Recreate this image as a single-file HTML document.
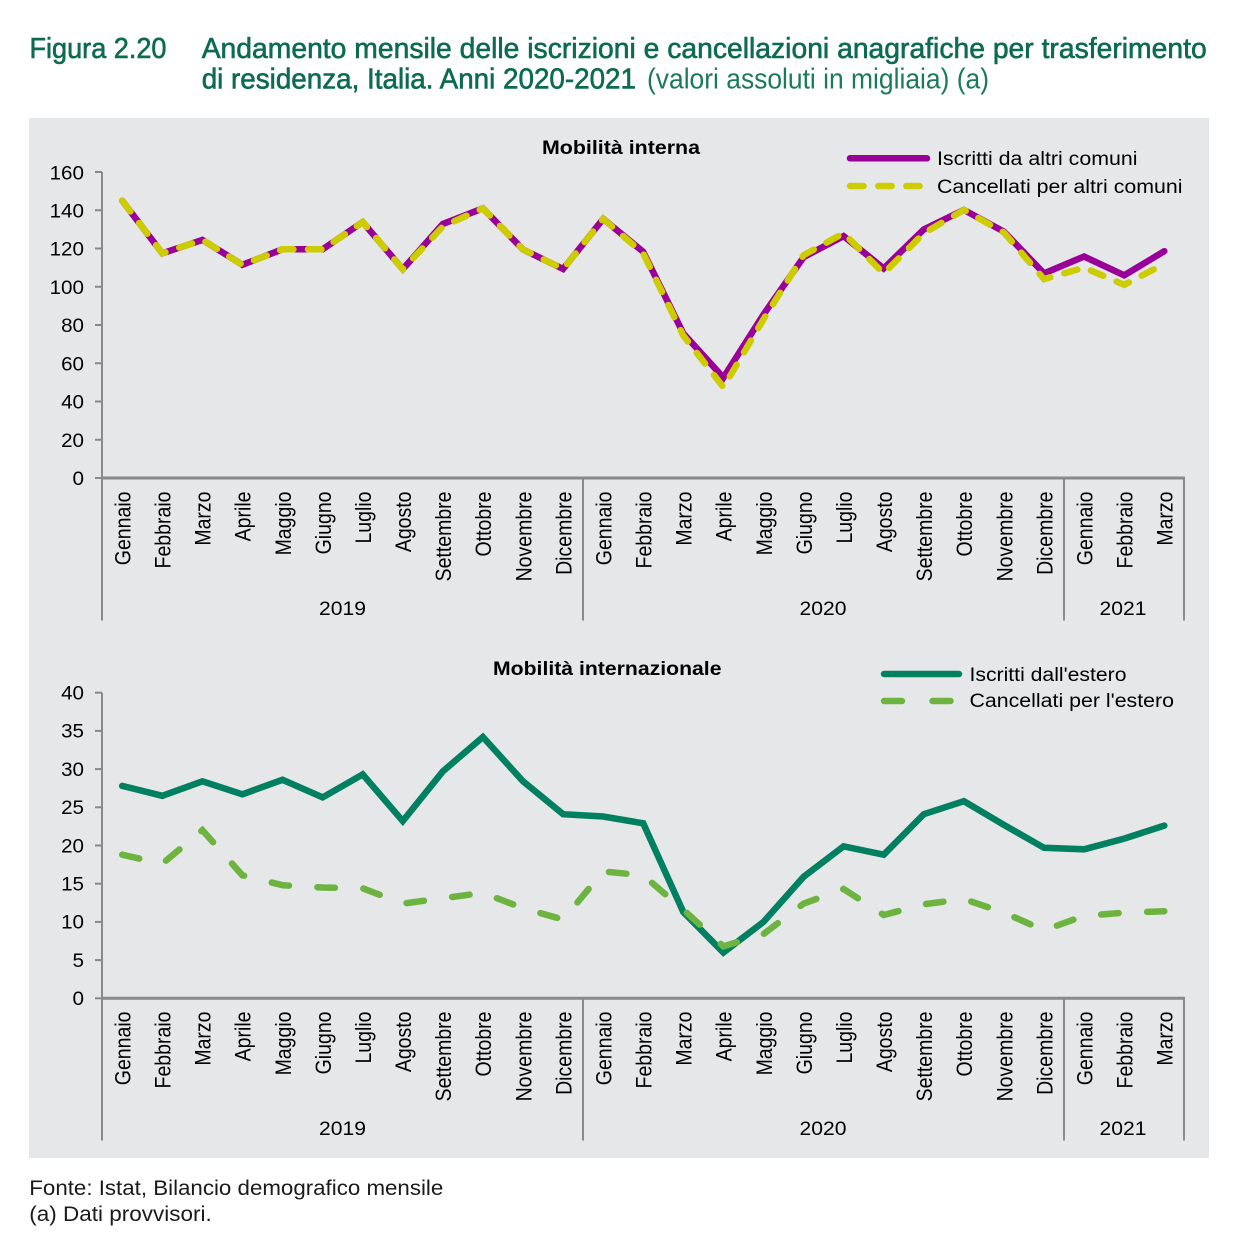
<!DOCTYPE html>
<html><head><meta charset="utf-8"><style>
html,body{margin:0;padding:0;background:#fff;}
svg{display:block;font-family:"Liberation Sans",Arial,sans-serif;}
</style></head><body>
<svg width="1246" height="1238" viewBox="0 0 1246 1238" xmlns="http://www.w3.org/2000/svg">
<!-- Title -->
<g fill="#0c6b50" font-size="28.5">
<text x="29.5" y="58" textLength="137" lengthAdjust="spacingAndGlyphs" stroke="#0c6b50" stroke-width="0.6">Figura 2.20</text>
<text x="201.7" y="58" textLength="1005" lengthAdjust="spacingAndGlyphs" stroke="#0c6b50" stroke-width="0.6">Andamento mensile delle iscrizioni e cancellazioni anagrafiche per trasferimento</text>
<text x="201.7" y="88.5" textLength="434.3" lengthAdjust="spacingAndGlyphs" stroke="#0c6b50" stroke-width="0.6">di residenza, Italia. Anni 2020-2021</text>
<text x="647" y="88.5" textLength="342" lengthAdjust="spacingAndGlyphs" fill="#1c7a5c">(valori assoluti in migliaia) (a)</text>
</g>
<!-- Panel -->
<rect x="29" y="118" width="1180" height="1040" fill="#e6e7e8"/>

<!-- ============ TOP CHART ============ -->
<text x="542" y="154" font-size="19" font-weight="bold" textLength="158" lengthAdjust="spacingAndGlyphs" fill="#000">Mobilità interna</text>
<g stroke="#898989" fill="none">
<line x1="102" y1="172" x2="102" y2="479" stroke-width="2"/>
<line x1="101" y1="478" x2="1185" y2="478" stroke-width="3"/>
<g stroke-width="2">
<line x1="95" y1="478" x2="102" y2="478"/><line x1="95" y1="439.75" x2="102" y2="439.75"/><line x1="95" y1="401.5" x2="102" y2="401.5"/><line x1="95" y1="363.25" x2="102" y2="363.25"/><line x1="95" y1="325" x2="102" y2="325"/><line x1="95" y1="286.75" x2="102" y2="286.75"/><line x1="95" y1="248.5" x2="102" y2="248.5"/><line x1="95" y1="210.25" x2="102" y2="210.25"/><line x1="95" y1="172" x2="102" y2="172"/>
<line x1="102" y1="478" x2="102" y2="620.5"/><line x1="583" y1="478" x2="583" y2="620.5"/><line x1="1064" y1="478" x2="1064" y2="620.5"/><line x1="1184" y1="478" x2="1184" y2="620.5"/>
</g></g>
<g font-size="19.5" fill="#000" text-anchor="end">
<text x="84" y="485" textLength="11.5" lengthAdjust="spacingAndGlyphs">0</text>
<text x="84" y="446.8" textLength="22.9" lengthAdjust="spacingAndGlyphs">20</text>
<text x="84" y="408.5" textLength="22.9" lengthAdjust="spacingAndGlyphs">40</text>
<text x="84" y="370.3" textLength="22.9" lengthAdjust="spacingAndGlyphs">60</text>
<text x="84" y="332" textLength="22.9" lengthAdjust="spacingAndGlyphs">80</text>
<text x="84" y="293.8" textLength="34.4" lengthAdjust="spacingAndGlyphs">100</text>
<text x="84" y="255.5" textLength="34.4" lengthAdjust="spacingAndGlyphs">120</text>
<text x="84" y="217.3" textLength="34.4" lengthAdjust="spacingAndGlyphs">140</text>
<text x="84" y="179.5" textLength="34.4" lengthAdjust="spacingAndGlyphs">160</text>
</g>
<g font-size="19.5" fill="#000" text-anchor="end">
<text transform="translate(130.5,491.5) scale(1.13,1) rotate(-90)">Gennaio</text>
<text transform="translate(170.6,491.5) scale(1.13,1) rotate(-90)">Febbraio</text>
<text transform="translate(210.7,491.5) scale(1.13,1) rotate(-90)">Marzo</text>
<text transform="translate(250.7,491.5) scale(1.13,1) rotate(-90)">Aprile</text>
<text transform="translate(290.8,491.5) scale(1.13,1) rotate(-90)">Maggio</text>
<text transform="translate(330.9,491.5) scale(1.13,1) rotate(-90)">Giugno</text>
<text transform="translate(371.0,491.5) scale(1.13,1) rotate(-90)">Luglio</text>
<text transform="translate(411.1,491.5) scale(1.13,1) rotate(-90)">Agosto</text>
<text transform="translate(451.1,491.5) scale(1.13,1) rotate(-90)">Settembre</text>
<text transform="translate(491.2,491.5) scale(1.13,1) rotate(-90)">Ottobre</text>
<text transform="translate(531.3,491.5) scale(1.13,1) rotate(-90)">Novembre</text>
<text transform="translate(571.4,491.5) scale(1.13,1) rotate(-90)">Dicembre</text>
<text transform="translate(611.5,491.5) scale(1.13,1) rotate(-90)">Gennaio</text>
<text transform="translate(651.5,491.5) scale(1.13,1) rotate(-90)">Febbraio</text>
<text transform="translate(691.6,491.5) scale(1.13,1) rotate(-90)">Marzo</text>
<text transform="translate(731.7,491.5) scale(1.13,1) rotate(-90)">Aprile</text>
<text transform="translate(771.8,491.5) scale(1.13,1) rotate(-90)">Maggio</text>
<text transform="translate(811.9,491.5) scale(1.13,1) rotate(-90)">Giugno</text>
<text transform="translate(851.9,491.5) scale(1.13,1) rotate(-90)">Luglio</text>
<text transform="translate(892.0,491.5) scale(1.13,1) rotate(-90)">Agosto</text>
<text transform="translate(932.1,491.5) scale(1.13,1) rotate(-90)">Settembre</text>
<text transform="translate(972.2,491.5) scale(1.13,1) rotate(-90)">Ottobre</text>
<text transform="translate(1012.3,491.5) scale(1.13,1) rotate(-90)">Novembre</text>
<text transform="translate(1052.3,491.5) scale(1.13,1) rotate(-90)">Dicembre</text>
<text transform="translate(1092.4,491.5) scale(1.13,1) rotate(-90)">Gennaio</text>
<text transform="translate(1132.5,491.5) scale(1.13,1) rotate(-90)">Febbraio</text>
<text transform="translate(1172.6,491.5) scale(1.13,1) rotate(-90)">Marzo</text>
</g>
<g font-size="19.5" fill="#000" text-anchor="middle">
<text x="342.5" y="615" textLength="47" lengthAdjust="spacingAndGlyphs">2019</text>
<text x="823" y="615" textLength="47" lengthAdjust="spacingAndGlyphs">2020</text>
<text x="1123" y="615" textLength="47" lengthAdjust="spacingAndGlyphs">2021</text>
</g>
<!-- series top -->
<polyline fill="none" stroke="#990099" stroke-width="6.5" stroke-linecap="round" stroke-linejoin="miter"
points="122.2,200.7 162.3,253.3 202.4,239.9 242.4,264.8 282.5,249.3 322.6,249.3 362.7,222.1 402.8,269.2 442.8,224.0 482.9,208.3 523.0,249.5 563.1,269.0 603.2,218.9 643.2,251.8 683.3,333.4 723.4,377.6 763.5,314.5 803.6,257.1 843.6,236.1 883.7,268.4 923.8,229.4 963.9,209.9 1004.0,231.7 1044.0,273.4 1084.1,256.5 1124.2,275.3 1164.3,251.2"/>
<polyline fill="none" stroke="#cccc00" stroke-width="6.5" stroke-linecap="round" stroke-linejoin="miter" stroke-dasharray="13.5 14.5"
points="122.2,200.7 162.3,253.3 202.4,239.9 242.4,264.8 282.5,249.3 322.6,249.3 362.7,222.1 402.8,269.2 442.8,226.5 482.9,208.3 523.0,249.5 563.1,269.0 603.2,218.9 643.2,253.3 683.3,335.5 723.4,387.2 763.5,319.3 803.6,255.2 843.6,233.2 883.7,273.4 923.8,233.2 963.9,209.9 1004.0,232.6 1044.0,279.1 1084.1,267.6 1124.2,284.8 1164.3,263.8"/>
<!-- legend top -->
<line x1="850" y1="158.3" x2="927" y2="158.3" stroke="#990099" stroke-width="6.5" stroke-linecap="round"/>
<g stroke="#cccc00" stroke-width="6.5" stroke-linecap="round">
<line x1="850" y1="186" x2="863.5" y2="186"/><line x1="878.3" y1="186" x2="891.7" y2="186"/><line x1="906.3" y1="186" x2="919.5" y2="186"/>
</g>
<g font-size="19" fill="#000">
<text x="937" y="165" textLength="200.5" lengthAdjust="spacingAndGlyphs">Iscritti da altri comuni</text>
<text x="937" y="193" textLength="245.5" lengthAdjust="spacingAndGlyphs">Cancellati per altri comuni</text>
</g>

<!-- ============ BOTTOM CHART ============ -->
<text x="493" y="675" font-size="19" font-weight="bold" textLength="228.5" lengthAdjust="spacingAndGlyphs" fill="#000">Mobilità internazionale</text>
<g stroke="#898989" fill="none">
<line x1="102" y1="692.7" x2="102" y2="999.3" stroke-width="2"/>
<line x1="101" y1="998.3" x2="1185" y2="998.3" stroke-width="3"/>
<g stroke-width="2">
<line x1="95" y1="998.3" x2="102" y2="998.3"/><line x1="95" y1="960.1" x2="102" y2="960.1"/><line x1="95" y1="921.9" x2="102" y2="921.9"/><line x1="95" y1="883.7" x2="102" y2="883.7"/><line x1="95" y1="845.5" x2="102" y2="845.5"/><line x1="95" y1="807.3" x2="102" y2="807.3"/><line x1="95" y1="769.1" x2="102" y2="769.1"/><line x1="95" y1="730.9" x2="102" y2="730.9"/><line x1="95" y1="692.7" x2="102" y2="692.7"/>
<line x1="102" y1="998" x2="102" y2="1140.5"/><line x1="583" y1="998" x2="583" y2="1140.5"/><line x1="1064" y1="998" x2="1064" y2="1140.5"/><line x1="1184" y1="998" x2="1184" y2="1140.5"/>
</g></g>
<g font-size="19.5" fill="#000" text-anchor="end">
<text x="84" y="1005.1" textLength="11.5" lengthAdjust="spacingAndGlyphs">0</text>
<text x="84" y="966.9" textLength="11.5" lengthAdjust="spacingAndGlyphs">5</text>
<text x="84" y="928.7" textLength="22.9" lengthAdjust="spacingAndGlyphs">10</text>
<text x="84" y="890.5" textLength="22.9" lengthAdjust="spacingAndGlyphs">15</text>
<text x="84" y="852.3" textLength="22.9" lengthAdjust="spacingAndGlyphs">20</text>
<text x="84" y="814.1" textLength="22.9" lengthAdjust="spacingAndGlyphs">25</text>
<text x="84" y="775.9" textLength="22.9" lengthAdjust="spacingAndGlyphs">30</text>
<text x="84" y="737.7" textLength="22.9" lengthAdjust="spacingAndGlyphs">35</text>
<text x="84" y="699.5" textLength="22.9" lengthAdjust="spacingAndGlyphs">40</text>
</g>
<g font-size="19.5" fill="#000" text-anchor="end">
<text transform="translate(130.5,1011.5) scale(1.13,1) rotate(-90)">Gennaio</text>
<text transform="translate(170.6,1011.5) scale(1.13,1) rotate(-90)">Febbraio</text>
<text transform="translate(210.7,1011.5) scale(1.13,1) rotate(-90)">Marzo</text>
<text transform="translate(250.7,1011.5) scale(1.13,1) rotate(-90)">Aprile</text>
<text transform="translate(290.8,1011.5) scale(1.13,1) rotate(-90)">Maggio</text>
<text transform="translate(330.9,1011.5) scale(1.13,1) rotate(-90)">Giugno</text>
<text transform="translate(371.0,1011.5) scale(1.13,1) rotate(-90)">Luglio</text>
<text transform="translate(411.1,1011.5) scale(1.13,1) rotate(-90)">Agosto</text>
<text transform="translate(451.1,1011.5) scale(1.13,1) rotate(-90)">Settembre</text>
<text transform="translate(491.2,1011.5) scale(1.13,1) rotate(-90)">Ottobre</text>
<text transform="translate(531.3,1011.5) scale(1.13,1) rotate(-90)">Novembre</text>
<text transform="translate(571.4,1011.5) scale(1.13,1) rotate(-90)">Dicembre</text>
<text transform="translate(611.5,1011.5) scale(1.13,1) rotate(-90)">Gennaio</text>
<text transform="translate(651.5,1011.5) scale(1.13,1) rotate(-90)">Febbraio</text>
<text transform="translate(691.6,1011.5) scale(1.13,1) rotate(-90)">Marzo</text>
<text transform="translate(731.7,1011.5) scale(1.13,1) rotate(-90)">Aprile</text>
<text transform="translate(771.8,1011.5) scale(1.13,1) rotate(-90)">Maggio</text>
<text transform="translate(811.9,1011.5) scale(1.13,1) rotate(-90)">Giugno</text>
<text transform="translate(851.9,1011.5) scale(1.13,1) rotate(-90)">Luglio</text>
<text transform="translate(892.0,1011.5) scale(1.13,1) rotate(-90)">Agosto</text>
<text transform="translate(932.1,1011.5) scale(1.13,1) rotate(-90)">Settembre</text>
<text transform="translate(972.2,1011.5) scale(1.13,1) rotate(-90)">Ottobre</text>
<text transform="translate(1012.3,1011.5) scale(1.13,1) rotate(-90)">Novembre</text>
<text transform="translate(1052.3,1011.5) scale(1.13,1) rotate(-90)">Dicembre</text>
<text transform="translate(1092.4,1011.5) scale(1.13,1) rotate(-90)">Gennaio</text>
<text transform="translate(1132.5,1011.5) scale(1.13,1) rotate(-90)">Febbraio</text>
<text transform="translate(1172.6,1011.5) scale(1.13,1) rotate(-90)">Marzo</text>
</g>
<g font-size="19.5" fill="#000" text-anchor="middle">
<text x="342.5" y="1135" textLength="47" lengthAdjust="spacingAndGlyphs">2019</text>
<text x="823" y="1135" textLength="47" lengthAdjust="spacingAndGlyphs">2020</text>
<text x="1123" y="1135" textLength="47" lengthAdjust="spacingAndGlyphs">2021</text>
</g>
<!-- series bottom -->
<polyline fill="none" stroke="#008060" stroke-width="6.5" stroke-linecap="round" stroke-linejoin="miter"
points="122.2,785.9 162.3,795.8 202.4,781.3 242.4,794.3 282.5,779.8 322.6,797.4 362.7,774.4 402.8,821.1 442.8,771.4 482.9,737.0 523.0,781.3 563.1,814.2 603.2,816.5 643.2,823.3 683.3,912.0 723.4,952.5 763.5,921.9 803.6,876.8 843.6,846.3 883.7,854.7 923.8,814.2 963.9,801.2 1004.0,824.9 1044.0,847.8 1084.1,849.3 1124.2,838.6 1164.3,825.6"/>
<polyline fill="none" stroke="#6db33f" stroke-width="6.5" stroke-linecap="round" stroke-linejoin="miter" stroke-dasharray="17.5 28.5"
points="122.2,854.7 162.3,863.8 202.4,830.2 242.4,875.3 282.5,885.2 322.6,887.5 362.7,888.3 402.8,903.6 442.8,898.2 482.9,892.9 523.0,908.1 563.1,919.6 603.2,871.5 643.2,875.3 683.3,909.7 723.4,946.3 763.5,934.1 803.6,903.6 843.6,889.0 883.7,915.0 923.8,904.3 963.9,899.0 1004.0,912.7 1044.0,930.3 1084.1,915.8 1124.2,912.7 1164.3,911.2"/>
<!-- legend bottom -->
<line x1="884" y1="674" x2="959" y2="674" stroke="#008060" stroke-width="6.5" stroke-linecap="round"/>
<g stroke="#6db33f" stroke-width="6.5" stroke-linecap="round">
<line x1="884" y1="701" x2="902" y2="701"/><line x1="932.5" y1="701" x2="950.5" y2="701"/>
</g>
<g font-size="19" fill="#000">
<text x="969.5" y="681" textLength="157" lengthAdjust="spacingAndGlyphs">Iscritti dall'estero</text>
<text x="969.5" y="707" textLength="204.5" lengthAdjust="spacingAndGlyphs">Cancellati per l'estero</text>
</g>

<!-- Footer -->
<g font-size="21.5" fill="#1a1a1a">
<text x="29.3" y="1195" textLength="414" lengthAdjust="spacingAndGlyphs">Fonte: Istat, Bilancio demografico mensile</text>
<text x="29.3" y="1221" textLength="182.4" lengthAdjust="spacingAndGlyphs">(a) Dati provvisori.</text>
</g>
</svg>
</body></html>
